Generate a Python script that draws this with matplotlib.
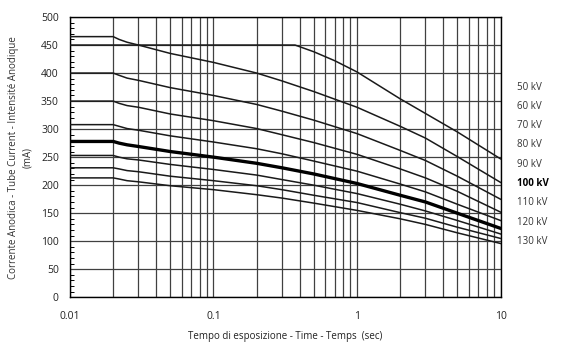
import matplotlib
matplotlib.use('Agg')
import matplotlib.pyplot as plt
from matplotlib.ticker import FixedLocator, NullFormatter, MultipleLocator

plt.rcParams['font.family'] = ['Open Sans', 'DejaVu Sans']

# tempi di esposizione (sec)
tempi = [0.01, 0.02, 0.022, 0.025, 0.03, 0.05, 0.1, 0.2, 0.3, 0.5, 1, 2, 3, 5, 10]

# curva 50 kV (tratto piatto fino a ~0.37 s)
tempi_50 = [0.01, 0.37, 0.5, 0.7, 1, 2, 5, 10]
kv50 = [450, 450, 438, 422, 402, 354, 295, 247]

# correnti anodiche (mA) per le altre tensioni
kv60 = [465, 465, 460, 455, 450, 435, 419, 400, 386, 367, 339, 305, 284, 251, 205]
kv70 = [400, 400, 396, 391, 387, 374, 360, 344, 332, 316, 292, 262, 244, 216, 175]
kv80 = [350, 350, 346, 342, 339, 327, 315, 301, 290, 276, 255, 229, 213, 189, 152]
kv90 = [308, 308, 305, 301, 298, 288, 277, 265, 256, 243, 225, 202, 188, 166, 137]
kv100 = [278, 278, 275, 272, 269, 260, 250, 239, 231, 220, 203, 182, 170, 150, 123]
kv110 = [253, 253, 250, 247, 245, 237, 228, 218, 210, 200, 185, 166, 154, 137, 113]
kv120 = [231, 231, 229, 226, 224, 216, 208, 199, 192, 182, 169, 151, 141, 125, 105]
kv130 = [213, 213, 211, 208, 206, 199, 192, 183, 177, 168, 155, 140, 130, 115, 96]

etichette = ['50 kV', '60 kV', '70 kV', '80 kV', '90 kV', '100 kV', '110 kV', '120 kV', '130 kV']

fig = plt.figure(figsize=(5.63, 3.45), dpi=100)
ax = fig.add_axes([0.1243, 0.1383, 0.7647, 0.8124])

# griglia
griglia_x = [m * 10.0 ** e for e in (-2, -1, 0) for m in range(1, 10)] + [10]
for gx in griglia_x:
    ax.axvline(gx, color='#404040', lw=0.9, zorder=1)
for gy in range(0, 501, 50):
    ax.axhline(gy, color='#404040', lw=0.9, zorder=1)

ax.plot(tempi_50, kv50, color='#1a1a1a', lw=1.1, zorder=3)
for serie in (kv60, kv70, kv80, kv90, kv110, kv120, kv130):
    ax.plot(tempi, serie, color='#1a1a1a', lw=1.1, zorder=3)
ax.plot(tempi, kv100, color='black', lw=2.4, zorder=4)

ax.set_xscale('log')
ax.set_xlim(0.01, 10)
ax.set_ylim(0, 500)

ax.xaxis.set_major_locator(FixedLocator([0.01, 0.1, 1, 10]))
ax.set_xticklabels(['0.01', '0.1', '1', '10'])
ax.xaxis.set_minor_formatter(NullFormatter())
ax.tick_params(axis='x', which='both', length=0, pad=10, labelsize=7.5, labelcolor='#222222')

ax.yaxis.set_major_locator(MultipleLocator(50))
ax.yaxis.set_minor_locator(MultipleLocator(10))
ax.tick_params(axis='y', which='major', length=0, pad=8, labelsize=7.5, labelcolor='#222222')
ax.tick_params(axis='y', which='minor', direction='in', length=3, width=0.7)

for s in ax.spines.values():
    s.set_color('black')
    s.set_linewidth(1.0)

ax.set_xlabel('Tempo di esposizione - Time - Temps  (sec)', fontsize=7, labelpad=6, color='#222222')
ax.set_ylabel('Corrente Anodica - Tube Current - Intensité Anodique\n(mA)',
              fontsize=7, labelpad=6, color='#333333', linespacing=1.3)

# etichette delle tensioni a destra
y0 = 87
for i, lab in enumerate(etichette):
    ypix = y0 + i * 19.3
    fig.text(517 / 563, 1 - ypix / 345, lab, fontsize=7, va='center', ha='left',
             color='black' if lab == '100 kV' else '#333333',
             fontweight='bold' if lab == '100 kV' else 'normal')

fig.savefig('out.png', dpi=100)
